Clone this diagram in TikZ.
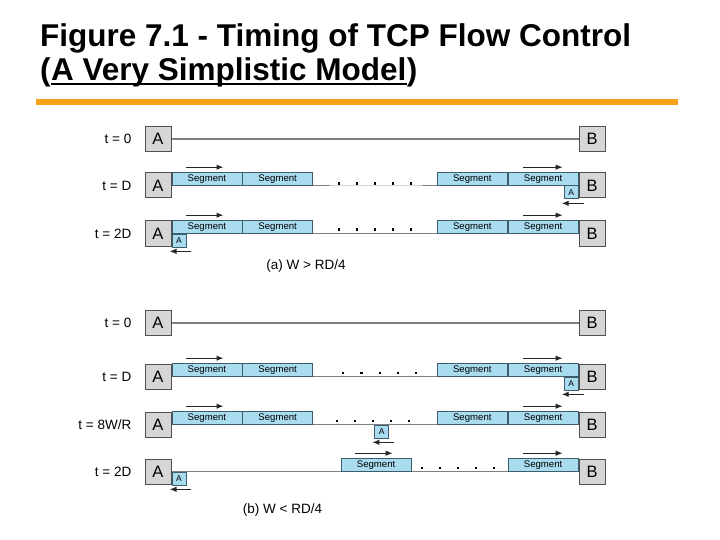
\documentclass[tikz,border=0pt]{standalone}
\usepackage{fontspec}
\setmainfont{Liberation Sans}
\usetikzlibrary{arrows.meta, positioning}
\usepackage{xcolor}
\definecolor{hostgrey}{HTML}{D6D6D6}
\definecolor{edgegrey}{HTML}{505050}
\definecolor{wiregrey}{HTML}{808080}
\definecolor{segblue}{HTML}{A9DCEE}
\definecolor{segedge}{HTML}{3E5C6B}
\definecolor{barorange}{HTML}{F7A11A}
\tikzset{
  hostbox/.style={rectangle, draw=edgegrey, fill=hostgrey, line width=1pt,
                  minimum width=26pt, minimum height=25pt, inner sep=0pt,
                  font=\fontsize{16.5}{16.5}\selectfont},
  segbox/.style={rectangle, draw=segedge, fill=segblue, line width=0.8pt,
                 minimum width=70pt, minimum height=12.5pt, inner sep=0pt,
                 font=\fontsize{9.6}{9.6}\selectfont},
  ackbox/.style={rectangle, draw=segedge, fill=segblue, line width=0.8pt,
                 minimum width=14pt, minimum height=13pt, inner sep=0pt,
                 font=\fontsize{8.5}{8.5}\selectfont},
  wire/.style={draw=wiregrey, line width=1.4pt},
  fadewire/.style={draw=wiregrey!35, line width=1.4pt},
  flow/.style={-{Latex[length=7pt,width=5.5pt]}, line width=1.1pt, draw=black!85},
  timelab/.style={font=\fontsize{13.5}{13.5}\selectfont, inner sep=0pt},
  caplab/.style={font=\fontsize{13.5}{13.5}\selectfont, inner sep=0pt},
  titlelab/.style={font=\fontsize{31.5}{31.5}\selectfont\bfseries, inner sep=0pt, anchor=base west},
}

\begin{document}
\begin{tikzpicture}[x=1pt, y=-1pt]
  \useasboundingbox (0,0) rectangle (720,540);

  % --- title ---
  \node[titlelab] (title1) at (40,47) {Figure 7.1 - Timing of TCP Flow Control};
  \node[titlelab] (title2) at (40,81) {(};
  \node[titlelab] (title2u) at (title2.base east) {A Very Simplistic Model};
  \node[titlelab] (title2c) at (title2u.base east) {)};
  \draw[line width=2pt] ([yshift=-3pt]title2u.base west) -- ([yshift=-3pt]title2u.base east);
  \fill[barorange] (36,99) rectangle (678,105.5);

  % --- (a) W > RD/4 ---
  \node[hostbox] (aA0) at (158,139) {A};
  \node[hostbox] (aB0) at (592,139) {B};
  \node[timelab, left=13pt of aA0] (aT0) {t = 0};
  \draw[wire] (aA0) -- (aB0);

  \node[hostbox] (aA1) at (158,185.5) {A};
  \node[hostbox] (aB1) at (592,185.5) {B};
  \node[timelab, left=13pt of aA1] (aT1) {t = D};
  \draw[wire] (aA1) -- (aB1);
  \node[segbox, anchor=south west] (aS1a) at (aA1.east) {Segment};
  \node[segbox, right=0pt of aS1a] (aS1b) {Segment};
  \node[segbox, anchor=south east] (aS1d) at (aB1.west) {Segment};
  \node[segbox, left=0pt of aS1d] (aS1c) {Segment};
  \node[ackbox, anchor=north east] (aK1) at (aB1.west) {A};
  \draw[fadewire] ([xshift=17pt]aS1b.south east) -- ([xshift=-15pt]aS1c.south west);
  \foreach \x in {339,357,...,411}
    \fill (\x-1,182.5) rectangle ++(2.4,2.4);
  \draw[flow] ([shift={(14,-5)}]aS1a.north west) -- ++(38,0);
  \draw[flow] ([shift={(15,-5)}]aS1d.north west) -- ++(40,0);
  \draw[flow] ([shift={(5,4)}]aK1.south east) -- ([shift={(-2,4)}]aK1.south west);

  \node[hostbox] (aA2) at (158,233.5) {A};
  \node[hostbox] (aB2) at (592,233.5) {B};
  \node[timelab, left=13pt of aA2] (aT2) {t = 2D};
  \draw[wire] (aA2) -- (aB2);
  \node[segbox, anchor=south west] (aS2a) at (aA2.east) {Segment};
  \node[segbox, right=0pt of aS2a] (aS2b) {Segment};
  \node[segbox, anchor=south east] (aS2d) at (aB2.west) {Segment};
  \node[segbox, left=0pt of aS2d] (aS2c) {Segment};
  \node[ackbox, anchor=north west] (aK2) at (aA2.east) {A};
  \foreach \x in {339,357,...,411}
    \fill (\x-1,228.5) rectangle ++(2.4,2.4);
  \draw[flow] ([shift={(14,-5)}]aS2a.north west) -- ++(38,0);
  \draw[flow] ([shift={(15,-5)}]aS2d.north west) -- ++(40,0);
  \draw[flow] ([shift={(5,4)}]aK2.south east) -- ([shift={(-2,4)}]aK2.south west);

  \node[caplab] (acap) at (306,266.5) {(a) W > RD/4};

  % --- (b) W < RD/4 ---
  \node[hostbox] (bA0) at (158,323) {A};
  \node[hostbox] (bB0) at (592,323) {B};
  \node[timelab, left=13pt of bA0] (bT0) {t = 0};
  \draw[wire] (bA0) -- (bB0);

  \node[hostbox] (bA1) at (158,376.5) {A};
  \node[hostbox] (bB1) at (592,376.5) {B};
  \node[timelab, left=13pt of bA1] (bT1) {t = D};
  \draw[wire] (bA1) -- (bB1);
  \node[segbox, anchor=south west] (bS1a) at (bA1.east) {Segment};
  \node[segbox, right=0pt of bS1a] (bS1b) {Segment};
  \node[segbox, anchor=south east] (bS1d) at (bB1.west) {Segment};
  \node[segbox, left=0pt of bS1d] (bS1c) {Segment};
  \node[ackbox, anchor=north east] (bK1) at (bB1.west) {A};
  \foreach \x in {343,361.25,...,416}
    \fill (\x-1,372) rectangle ++(2.4,2.4);
  \draw[flow] ([shift={(14,-5)}]bS1a.north west) -- ++(38,0);
  \draw[flow] ([shift={(15,-5)}]bS1d.north west) -- ++(40,0);
  \draw[flow] ([shift={(5,4)}]bK1.south east) -- ([shift={(-2,4)}]bK1.south west);

  \node[hostbox] (bA2) at (158,424.5) {A};
  \node[hostbox] (bB2) at (592,424.5) {B};
  \node[timelab, left=13pt of bA2] (bT2) {t = 8W/R};
  \draw[wire] (bA2) -- (bB2);
  \node[segbox, anchor=south west] (bS2a) at (bA2.east) {Segment};
  \node[segbox, right=0pt of bS2a] (bS2b) {Segment};
  \node[segbox, anchor=south east] (bS2d) at (bB2.west) {Segment};
  \node[segbox, left=0pt of bS2d] (bS2c) {Segment};
  \coordinate (bM2) at (374.3,424.5);
  \node[ackbox, anchor=north west] (bK2) at (bM2) {A};
  \foreach \x in {337,355,...,409}
    \fill (\x-1,419.5) rectangle ++(2.4,2.4);
  \draw[flow] ([shift={(14,-5)}]bS2a.north west) -- ++(38,0);
  \draw[flow] ([shift={(15,-5)}]bS2d.north west) -- ++(40,0);
  \draw[flow] ([shift={(5,4)}]bK2.south east) -- ([shift={(-2,4)}]bK2.south west);

  \node[hostbox] (bA3) at (158,471.5) {A};
  \node[hostbox] (bB3) at (592,471.5) {B};
  \node[timelab, left=13pt of bA3] (bT3) {t = 2D};
  \draw[wire] (bA3) -- (bB3);
  \coordinate (bM3) at (340.7,471.5);
  \node[segbox, anchor=south west] (bS3a) at (bM3) {Segment};
  \node[segbox, anchor=south east] (bS3d) at (bB3.west) {Segment};
  \node[ackbox, anchor=north west] (bK3) at (bA3.east) {A};
  \foreach \x in {422,440,...,494}
    \fill (\x-1,466.5) rectangle ++(2.4,2.4);
  \draw[flow] ([shift={(14,-5)}]bS3a.north west) -- ++(38,0);
  \draw[flow] ([shift={(15,-5)}]bS3d.north west) -- ++(40,0);
  \draw[flow] ([shift={(5,4)}]bK3.south east) -- ([shift={(-2,4)}]bK3.south west);

  \node[caplab] (bcap) at (282.5,510) {(b) W < RD/4};

\end{tikzpicture}
\end{document}
